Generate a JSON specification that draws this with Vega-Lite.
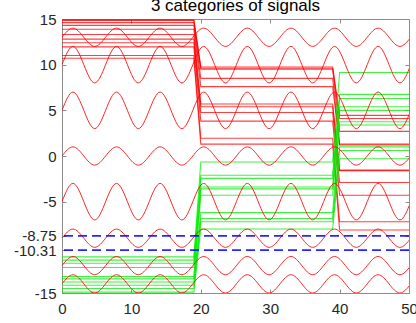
{
  "$schema": "https://vega.github.io/schema/vega-lite/v6.json",
  "autosize": "none",
  "width": 347,
  "height": 274,
  "padding": {"left": 62, "top": 19, "right": 7, "bottom": 30},
  "title": {"text": "3 categories of signals", "fontSize": 17, "fontWeight": "normal", "color": "#000000", "anchor": "middle", "frame": "group", "baseline": "alphabetic", "offset": 0, "dy": 16, "font": "Liberation Sans"},
  "config": {
    "view": {"stroke": null},
    "font": "Liberation Sans",
    "axis": {"grid": false, "domainColor": "#8c8c8c", "tickColor": "#8c8c8c", "labelColor": "#262626", "labelFontSize": 15, "labelFont": "Liberation Sans", "title": null, "labelFlush": false, "labelOverlap": false}
  },
  "datasets": {
    "waves": [
      {"x": 0, "a": 13, "b": 10, "c": 5, "d": 0, "e": -5, "f": -9, "g": -12, "h": -14},
      {"x": 1.5708, "a": 14, "b": 12, "c": 7, "d": 1, "e": -3, "f": -8, "g": -11, "h": -13},
      {"x": 3.1416, "a": 13, "b": 10, "c": 5, "d": 0, "e": -5, "f": -9, "g": -12, "h": -14},
      {"x": 4.7124, "a": 12, "b": 8, "c": 3, "d": -1, "e": -7, "f": -10, "g": -13, "h": -15},
      {"x": 6.2832, "a": 13, "b": 10, "c": 5, "d": 0, "e": -5, "f": -9, "g": -12, "h": -14},
      {"x": 7.854, "a": 14, "b": 12, "c": 7, "d": 1, "e": -3, "f": -8, "g": -11, "h": -13},
      {"x": 9.4248, "a": 13, "b": 10, "c": 5, "d": 0, "e": -5, "f": -9, "g": -12, "h": -14},
      {"x": 10.9956, "a": 12, "b": 8, "c": 3, "d": -1, "e": -7, "f": -10, "g": -13, "h": -15},
      {"x": 12.5664, "a": 13, "b": 10, "c": 5, "d": 0, "e": -5, "f": -9, "g": -12, "h": -14},
      {"x": 14.1372, "a": 14, "b": 12, "c": 7, "d": 1, "e": -3, "f": -8, "g": -11, "h": -13},
      {"x": 15.708, "a": 13, "b": 10, "c": 5, "d": 0, "e": -5, "f": -9, "g": -12, "h": -14},
      {"x": 17.2788, "a": 12, "b": 8, "c": 3, "d": -1, "e": -7, "f": -10, "g": -13, "h": -15},
      {"x": 18.8496, "a": 13, "b": 10, "c": 5, "d": 0, "e": -5, "f": -9, "g": -12, "h": -14},
      {"x": 20.4204, "a": 14, "b": 12, "c": 7, "d": 1, "e": -3, "f": -8, "g": -11, "h": -13},
      {"x": 21.9911, "a": 13, "b": 10, "c": 5, "d": 0, "e": -5, "f": -9, "g": -12, "h": -14},
      {"x": 23.5619, "a": 12, "b": 8, "c": 3, "d": -1, "e": -7, "f": -10, "g": -13, "h": -15},
      {"x": 25.1327, "a": 13, "b": 10, "c": 5, "d": 0, "e": -5, "f": -9, "g": -12, "h": -14},
      {"x": 26.7035, "a": 14, "b": 12, "c": 7, "d": 1, "e": -3, "f": -8, "g": -11, "h": -13},
      {"x": 28.2743, "a": 13, "b": 10, "c": 5, "d": 0, "e": -5, "f": -9, "g": -12, "h": -14},
      {"x": 29.8451, "a": 12, "b": 8, "c": 3, "d": -1, "e": -7, "f": -10, "g": -13, "h": -15},
      {"x": 31.4159, "a": 13, "b": 10, "c": 5, "d": 0, "e": -5, "f": -9, "g": -12, "h": -14},
      {"x": 32.9867, "a": 14, "b": 12, "c": 7, "d": 1, "e": -3, "f": -8, "g": -11, "h": -13},
      {"x": 34.5575, "a": 13, "b": 10, "c": 5, "d": 0, "e": -5, "f": -9, "g": -12, "h": -14},
      {"x": 36.1283, "a": 12, "b": 8, "c": 3, "d": -1, "e": -7, "f": -10, "g": -13, "h": -15},
      {"x": 37.6991, "a": 13, "b": 10, "c": 5, "d": 0, "e": -5, "f": -9, "g": -12, "h": -14},
      {"x": 39.2699, "a": 14, "b": 12, "c": 7, "d": 1, "e": -3, "f": -8, "g": -11, "h": -13},
      {"x": 40.8407, "a": 13, "b": 10, "c": 5, "d": 0, "e": -5, "f": -9, "g": -12, "h": -14},
      {"x": 42.4115, "a": 12, "b": 8, "c": 3, "d": -1, "e": -7, "f": -10, "g": -13, "h": -15},
      {"x": 43.9823, "a": 13, "b": 10, "c": 5, "d": 0, "e": -5, "f": -9, "g": -12, "h": -14},
      {"x": 45.5531, "a": 14, "b": 12, "c": 7, "d": 1, "e": -3, "f": -8, "g": -11, "h": -13},
      {"x": 47.1239, "a": 13, "b": 10, "c": 5, "d": 0, "e": -5, "f": -9, "g": -12, "h": -14},
      {"x": 48.6947, "a": 12, "b": 8, "c": 3, "d": -1, "e": -7, "f": -10, "g": -13, "h": -15},
      {"x": 50.2655, "a": 13, "b": 10, "c": 5, "d": 0, "e": -5, "f": -9, "g": -12, "h": -14}
    ],
    "red": [
      {"x": 0, "r1": 14.9, "r2": 14.85, "r3": 14.6, "r4": 14.3, "r5": 13.87, "r6": 13.3, "r7": 12.8, "r8": 12.4, "r9": 11.95, "r10": 11.0, "r11": 10.7},
      {"x": 19, "r1": 14.9, "r2": 14.85, "r3": 14.6, "r4": 14.3, "r5": 13.87, "r6": 13.3, "r7": 12.8, "r8": 12.4, "r9": 11.95, "r10": 11.0, "r11": 10.7},
      {"x": 20, "r1": 9.75, "r2": 9.6, "r3": 9.5, "r4": 8.5, "r5": 7.6, "r6": 5.7, "r7": 5.4, "r8": 4.77, "r9": 3.82, "r10": 1.95, "r11": 1.3},
      {"x": 39, "r1": 9.75, "r2": 9.6, "r3": 9.5, "r4": 8.5, "r5": 7.6, "r6": 5.7, "r7": 5.4, "r8": 4.77, "r9": 3.82, "r10": 1.95, "r11": 1.3},
      {"x": 40, "r1": 4.45, "r2": 4.1, "r3": 2.7, "r4": 1.3, "r5": 1.2, "r6": -1.55, "r7": -1.6, "r8": -2.9, "r9": -4.3, "r10": -7.2, "r11": -8.1},
      {"x": 50, "r1": 4.45, "r2": 4.1, "r3": 2.7, "r4": 1.3, "r5": 1.2, "r6": -1.55, "r7": -1.6, "r8": -2.9, "r9": -4.3, "r10": -7.2, "r11": -8.1}
    ],
    "green": [
      {"x": 0, "g1": -14.9, "g2": -14.5, "g3": -14.15, "g4": -13.8, "g5": -13.45, "g6": -13.2, "g7": -12.2, "g8": -11.75, "g9": -11.4, "g10": -11.05},
      {"x": 19, "g1": -14.9, "g2": -14.5, "g3": -14.15, "g4": -13.8, "g5": -13.45, "g6": -13.2, "g7": -12.2, "g8": -11.75, "g9": -11.4, "g10": -11.05},
      {"x": 20, "g1": -8.0, "g2": -7.2, "g3": -6.85, "g4": -6.2, "g5": -4.3, "g6": -3.6, "g7": -3.4, "g8": -2.45, "g9": -2.1, "g10": -0.65},
      {"x": 39, "g1": -8.0, "g2": -7.2, "g3": -6.85, "g4": -6.2, "g5": -4.3, "g6": -3.6, "g7": -3.4, "g8": -2.45, "g9": -2.1, "g10": -0.65},
      {"x": 40, "g1": -0.3, "g2": 0.6, "g3": 1.0, "g4": 3.4, "g5": 3.75, "g6": 5.0, "g7": 5.4, "g8": 6.3, "g9": 6.75, "g10": 9.15},
      {"x": 50, "g1": -0.3, "g2": 0.6, "g3": 1.0, "g4": 3.4, "g5": 3.75, "g6": 5.0, "g7": 5.4, "g8": 6.3, "g9": 6.75, "g10": 9.15}
    ],
    "levels": [{"v": -8.75}, {"v": -10.31}]
  },
  "resolve": {"axis": {"x": "independent", "y": "independent"}},
  "layer": [
    {
      "data": {"name": "red"},
      "transform": [{"fold": ["r1", "r2", "r3", "r4", "r5", "r6", "r7", "r8", "r9", "r10", "r11"], "as": ["s", "v"]}],
      "mark": {"type": "line", "color": "#ff0000", "strokeWidth": 1.1, "opacity": 0.75, "clip": true},
      "encoding": {
        "x": {"field": "x", "type": "quantitative", "scale": {"domain": [0, 50], "nice": false, "zero": false},
              "axis": {"orient": "bottom", "values": [0, 10, 20, 30, 40, 50], "tickSize": -4, "labelPadding": 12}},
        "y": {"field": "v", "type": "quantitative", "scale": {"domain": [-15, 15], "nice": false, "zero": false},
              "axis": {"orient": "left", "values": [-15, -10.31, -8.75, -5, 0, 5, 10, 15], "labelExpr": "'' + datum.value", "tickSize": -4, "labelPadding": 10}},
        "detail": {"field": "s"}
      }
    },
    {
      "data": {"name": "green"},
      "transform": [{"fold": ["g1", "g2", "g3", "g4", "g5", "g6", "g7", "g8", "g9", "g10"], "as": ["s", "v"]}],
      "mark": {"type": "line", "color": "#00ee00", "strokeWidth": 1.1, "opacity": 0.75, "clip": true},
      "encoding": {
        "x": {"field": "x", "type": "quantitative", "axis": {"orient": "top", "values": [0, 10, 20, 30, 40, 50], "labels": false, "tickSize": -4}},
        "y": {"field": "v", "type": "quantitative", "axis": {"orient": "right", "values": [-15, -10.31, -8.75, -5, 0, 5, 10, 15], "labels": false, "tickSize": -4}},
        "detail": {"field": "s"}
      }
    },
    {
      "data": {"name": "waves"},
      "transform": [{"fold": ["a", "b", "c", "d", "e", "f", "g", "h"], "as": ["w", "v"]}],
      "mark": {"type": "line", "color": "#ff0000", "strokeWidth": 1, "opacity": 0.85, "interpolate": "natural", "clip": true},
      "encoding": {
        "x": {"field": "x", "type": "quantitative", "axis": null},
        "y": {"field": "v", "type": "quantitative", "axis": null},
        "detail": {"field": "w"}
      }
    },
    {
      "data": {"name": "levels"},
      "mark": {"type": "rule", "color": "#0000ff", "strokeWidth": 1.8, "strokeDash": [9, 5], "opacity": 0.85},
      "encoding": {
        "y": {"field": "v", "type": "quantitative", "axis": null}
      }
    }
  ]
}
